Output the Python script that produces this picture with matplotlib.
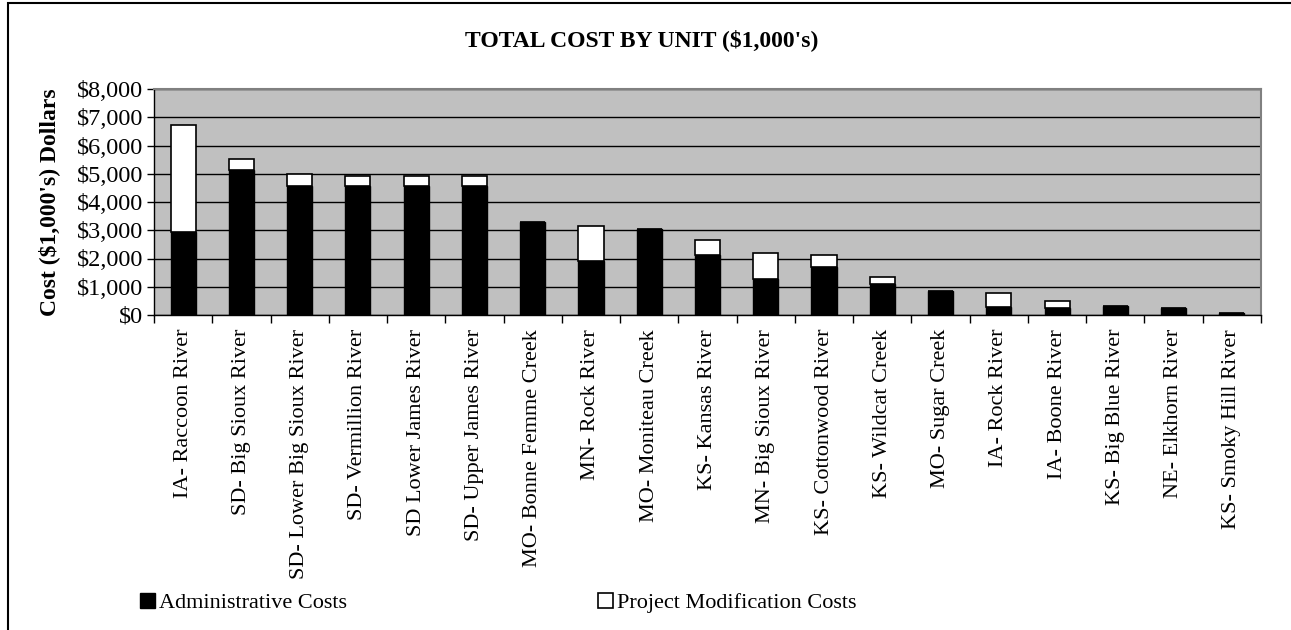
import numpy as np
import matplotlib
matplotlib.use("Agg")
import matplotlib.pyplot as plt
from matplotlib.patches import Rectangle
from matplotlib.ticker import FuncFormatter, FixedLocator

plt.rcParams['font.family'] = ['Liberation Serif', 'DejaVu Serif']

# Cost per unit, in thousands of dollars
units = [
    "IA- Raccoon River", "SD- Big Sioux River", "SD- Lower Big Sioux River",
    "SD- Vermillion River", "SD Lower James River", "SD- Upper James River",
    "MO- Bonne Femme Creek", "MN- Rock River", "MO- Moniteau Creek",
    "KS- Kansas River", "MN- Big Sioux River", "KS- Cottonwood River",
    "KS- Wildcat Creek", "MO- Sugar Creek", "IA- Rock River",
    "IA- Boone River", "KS- Big Blue River", "NE- Elkhorn River",
    "KS- Smoky Hill River",
]
admin_costs = [2930, 5120, 4580, 4580, 4580, 4580, 3280, 1900, 3030,
               2140, 1290, 1710, 1100, 860, 280, 250, 310, 240, 70]
project_mod_costs = [3800, 400, 400, 330, 330, 330, 0, 1240, 0,
                     530, 890, 400, 230, 0, 500, 230, 0, 0, 0]

fig = plt.figure(figsize=(12.91, 6.30), dpi=100)
ax = fig.add_axes([154 / 1291, 1 - 315 / 630, 1107 / 1291, 226 / 630])

x = np.arange(len(units))
ax.bar(x, admin_costs, width=0.43, color='black', edgecolor='black',
       linewidth=1, label='Administrative Costs', zorder=3)
ax.bar(x, project_mod_costs, width=0.43, bottom=admin_costs, color='white',
       edgecolor='black', linewidth=1.2, label='Project Modification Costs',
       zorder=3)

ax.set_facecolor('#C0C0C0')
ax.set_xlim(-0.5, len(units) - 0.5)
ax.set_ylim(0, 8000)
ax.set_yticks(np.arange(0, 8001, 1000))
ax.yaxis.set_major_formatter(FuncFormatter(lambda v, p: f"${v:,.0f}"))
ax.grid(axis='y', color='black', linewidth=1, zorder=1)

# ticks between categories, labels at category centres
ax.xaxis.set_major_locator(FixedLocator(np.arange(-0.5, len(units), 1)))
ax.xaxis.set_major_formatter(FuncFormatter(lambda v, p: ""))
ax.set_xticks(x, minor=True)
ax.set_xticklabels(units, minor=True, rotation=90, fontsize=16, va='top')
ax.tick_params(axis='x', which='major', direction='out', length=6, width=1)
ax.tick_params(axis='x', which='minor', length=0, pad=10)
ax.tick_params(axis='y', direction='out', length=5, width=1, labelsize=17.5, pad=3)

for side in ('top', 'right'):
    ax.spines[side].set_color('#808080')
    ax.spines[side].set_linewidth(1.5)
for side in ('left', 'bottom'):
    ax.spines[side].set_color('black')
    ax.spines[side].set_linewidth(1)

ax.set_ylabel("Cost ($1,000's) Dollars", fontsize=17, fontweight='bold',
              labelpad=12)
fig.text(0.497, 1 - 40 / 630, "TOTAL COST BY UNIT ($1,000's)", ha='center',
         va='center', fontsize=17, fontweight='bold')

handles, labels = ax.get_legend_handles_labels()
fig.legend(handles, labels, loc='center left',
           bbox_to_anchor=(129 / 1291, 1 - 603 / 630), ncol=2, frameon=False,
           fontsize=16, handlelength=0.65, handleheight=0.65,
           handletextpad=0.2, columnspacing=11.3, borderpad=0)

# outer chart border
fig.patches.append(Rectangle((8 / 1291, -0.1), 1.2, 1 - 3 / 630 + 0.1,
                             transform=fig.transFigure, fill=False,
                             edgecolor='black', linewidth=1.5))

fig.savefig("out.png", dpi=100)
